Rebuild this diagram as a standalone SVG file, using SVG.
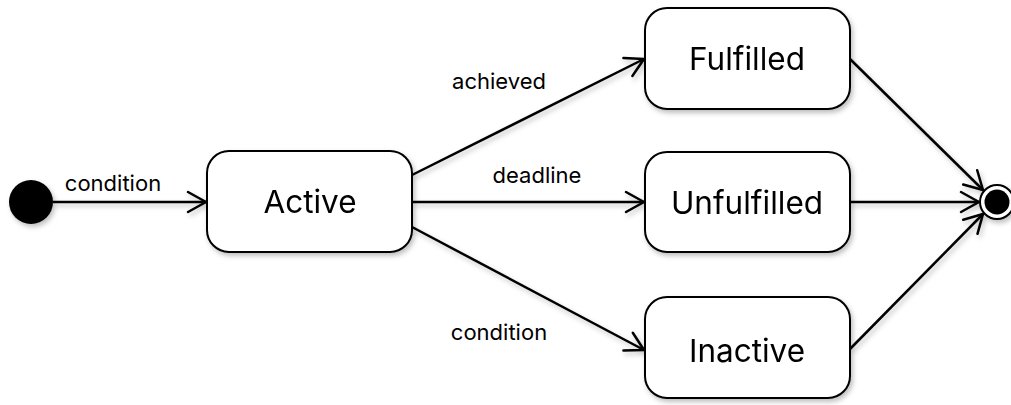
<svg xmlns="http://www.w3.org/2000/svg" width="1011" height="405" viewBox="0 0 1011 405">
<style>
.node rect{fill:#fff;stroke:#000;stroke-width:2}
.node text{font-family:Inter,"Noto Sans","Liberation Sans",sans-serif;font-size:31.5px;text-anchor:middle;fill:#000}
.edge{stroke:#000;stroke-width:2.5;fill:none}
.lbl{font-family:Inter,"Noto Sans","Liberation Sans",sans-serif;font-size:22px;text-anchor:middle;fill:#000}
</style>
<defs>
<filter id="sh" x="-20%" y="-20%" width="150%" height="150%">
<feDropShadow dx="2" dy="3" stdDeviation="2.5" flood-color="#000" flood-opacity="0.25"/>
</filter>
<marker id="arr" markerUnits="userSpaceOnUse" markerWidth="24" markerHeight="24" viewBox="-22 -12 24 24" refX="0" refY="0" orient="auto">
<path d="M -18 -10 L 0 0 L -18 10" fill="none" stroke="#000" stroke-width="2.5" stroke-linecap="round" stroke-linejoin="round"/>
</marker>
</defs>
<rect width="1011" height="405" fill="#fff"/>
<g id="connectors" filter="url(#sh)">
<line class="edge" x1="53" y1="202" x2="206" y2="202" marker-end="url(#arr)"/>
<line class="edge" x1="412" y1="175" x2="644" y2="59" marker-end="url(#arr)"/>
<line class="edge" x1="412" y1="202" x2="644" y2="202" marker-end="url(#arr)"/>
<line class="edge" x1="412" y1="227" x2="644" y2="350" marker-end="url(#arr)"/>
<line class="edge" x1="850" y1="59" x2="983" y2="190" marker-end="url(#arr)"/>
<line class="edge" x1="850" y1="202" x2="979" y2="202" marker-end="url(#arr)"/>
<line class="edge" x1="850" y1="349" x2="983" y2="214" marker-end="url(#arr)"/>
</g>
<g id="edge-labels">
<text class="lbl" x="113" y="191">condition</text>
<text class="lbl" x="499" y="89">achieved</text>
<text class="lbl" x="537" y="183">deadline</text>
<text class="lbl" x="499" y="340">condition</text>
</g>
<g id="initial" filter="url(#sh)">
<circle cx="31" cy="202" r="22" fill="#000"/>
</g>
<g id="active" class="node" filter="url(#sh)">
<rect x="207" y="151" width="205" height="101" rx="22"/>
<text x="310" y="213">Active</text>
</g>
<g id="fulfilled" class="node" filter="url(#sh)">
<rect x="645" y="8" width="205" height="101" rx="22"/>
<text x="747" y="70">Fulfilled</text>
</g>
<g id="unfulfilled" class="node" filter="url(#sh)">
<rect x="645" y="152" width="205" height="100" rx="22"/>
<text x="747" y="214">Unfulfilled</text>
</g>
<g id="inactive" class="node" filter="url(#sh)">
<rect x="645" y="297" width="205" height="101" rx="22"/>
<text x="747" y="362">Inactive</text>
</g>
<g id="final" filter="url(#sh)">
<circle cx="997" cy="202" r="17" fill="#fff" stroke="#000" stroke-width="2"/>
<circle cx="997" cy="202" r="12.5" fill="#000"/>
</g>
</svg>
